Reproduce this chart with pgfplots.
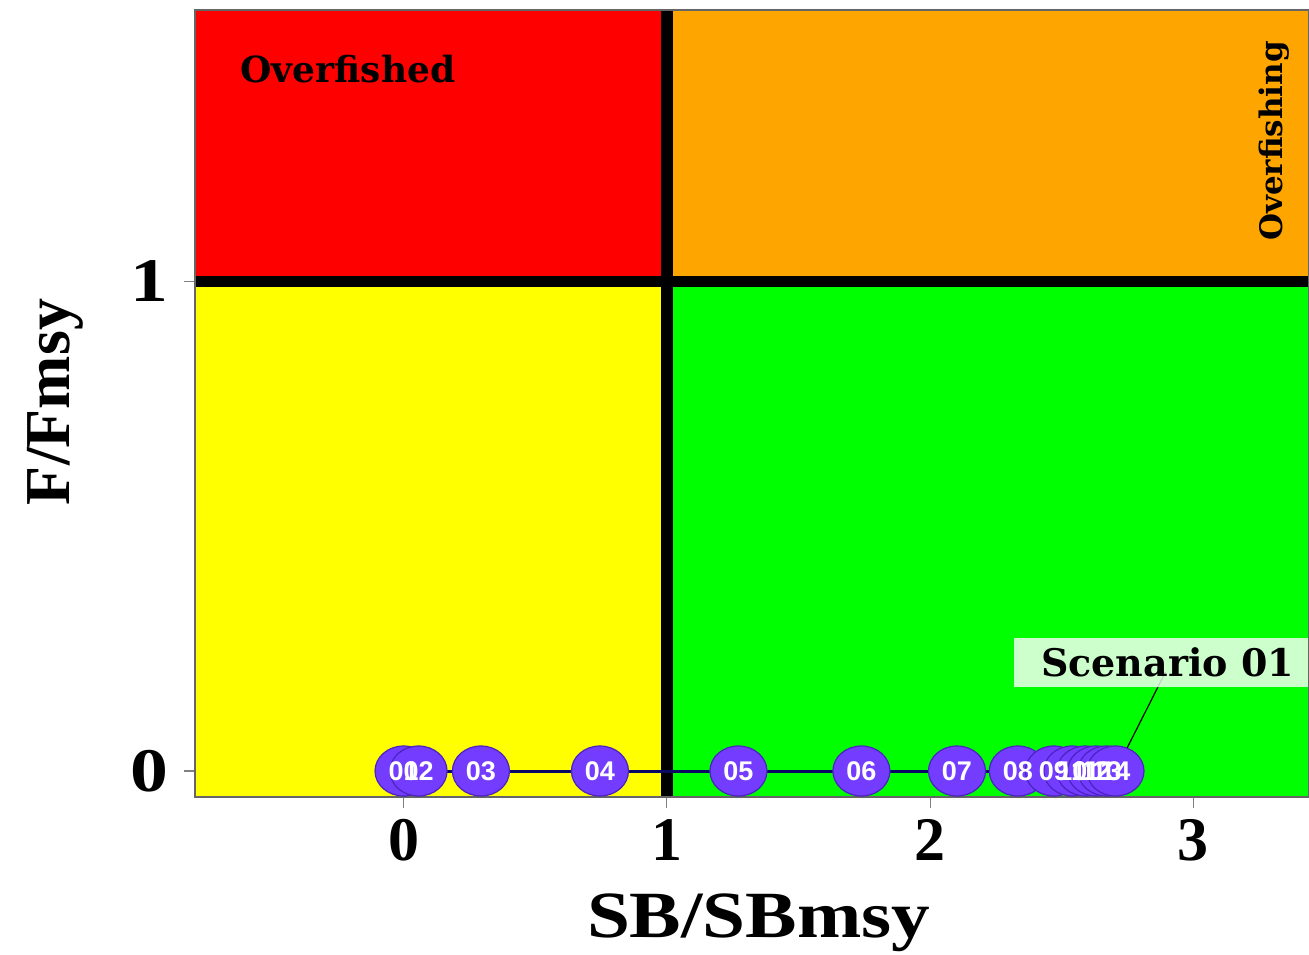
\documentclass[border=0pt]{standalone}
\usepackage{fontspec}
\setmainfont{Liberation Serif}
\newfontfamily\dvs{DejaVu Serif}
\newfontfamily\lsans{Liberation Sans}
\usepackage{pgfplots}
\usepackage{pgfplotstable}
\pgfplotsset{compat=1.18}
\definecolor{kred}{RGB}{255,0,0}
\definecolor{korange}{RGB}{255,165,0}
\definecolor{kyellow}{RGB}{255,255,0}
\definecolor{kgreen}{RGB}{0,255,0}
\definecolor{knavy}{RGB}{10,10,100}
\definecolor{ptfill}{RGB}{115,60,255}
\definecolor{ptdraw}{RGB}{75,35,190}
\pgfplotstableread{
x y lab
0     0 01
0.057 0 02
0.294 0 03
0.746 0 04
1.272 0 05
1.739 0 06
2.102 0 07
2.333 0 08
2.47  0 09
2.54  0 10
2.59  0 11
2.63  0 12
2.67  0 13
2.704 0 14
}\scen
\begin{document}
\begin{tikzpicture}
\begin{axis}[name=ax, at={(0,0)}, anchor=south west, scale only axis,
  width=557pt, height=393.5pt,
  xmin=-0.792, xmax=3.439, ymin=-0.0531, ymax=1.5546,
  xtick={0,1,2,3}, xticklabels={0,1,2,3},
  ytick={0,1}, yticklabels={\scalebox{1.22}[1]{0},\scalebox{1.22}[1]{1}},
  xtick pos=bottom, ytick pos=left,
  tick align=outside, major tick length=5.5pt,
  tick style={gray, line width=0.6pt},
  axis line style={gray!80!black, line width=0.8pt},
  axis on top=true,
  xticklabel style={font=\bfseries\fontsize{31}{31}\selectfont, inner sep=0pt, anchor=north, yshift=-5.5pt},
  yticklabel style={font=\bfseries\fontsize{31}{31}\selectfont, inner sep=0pt, anchor=east, xshift=-7.5pt},
  xlabel={\scalebox{1.17}[1]{\bfseries\fontsize{33}{33}\selectfont SB/SBmsy}},
  ylabel={\bfseries\fontsize{32}{32}\selectfont F/Fmsy},
  xlabel style={at={(axis description cs:0.506,-0.1779)}, anchor=base, inner sep=0pt},
  ylabel style={at={(axis description cs:-0.1131,0.502)}, anchor=base, inner sep=0pt},
]
\addplot[draw=none, fill=kred] coordinates {(-1,1) (1,1) (1,2) (-1,2)};
\addplot[draw=none, fill=korange] coordinates {(1,1) (4,1) (4,2) (1,2)};
\addplot[draw=none, fill=kyellow] coordinates {(-1,-1) (1,-1) (1,1) (-1,1)};
\addplot[draw=none, fill=kgreen] coordinates {(1,-1) (4,-1) (4,1) (1,1)};
\addplot[black, line width=6pt] coordinates {(1,-1) (1,2)};
\addplot[black, line width=5.5pt] coordinates {(-1,1) (4,1)};
\node[font=\dvs\bfseries\fontsize{18}{18}\selectfont, anchor=base] at (axis cs:-0.211,1.4055) {Overfished};
\node[font=\dvs\bfseries\fontsize{15.5}{15.5}\selectfont, anchor=base, rotate=90] at (axis cs:3.340,1.287) {Overfishing};
\addplot[knavy, line width=1.5pt] table[x=x, y=y] {\scen};
\addplot[only marks, mark=*, mark size=12.5pt,
  mark options={xscale=1.14, fill=ptfill, draw=ptdraw, line width=0.6pt}]
  table[x=x, y=y] {\scen};
\addplot[only marks, mark=*, mark size=0pt, mark options={draw=none, fill=none},
  point meta=explicit symbolic, nodes near coords,
  every node near coord/.append style={anchor=center, inner sep=0pt,
    font=\lsans\bfseries\fontsize{13.5}{14}\selectfont, text=white}]
  table[x=x, y=y, meta=lab] {\scen};
\addplot[black, line width=0.6pt] coordinates {(2.704,0) (2.894,0.2023)};
\node[fill=white, fill opacity=0.8, text opacity=1, inner xsep=13.5pt, minimum height=24.5pt,
  font=\dvs\bfseries\fontsize{19}{19}\selectfont] at (axis cs:2.9016,0.2217) {Scenario 01};
\end{axis}
\pgfresetboundingbox
\path[use as bounding box] ([shift={(-97.5pt,-78.5pt)}]ax.south west) rectangle ([yshift=5pt]ax.north east);
\end{tikzpicture}
\end{document}
